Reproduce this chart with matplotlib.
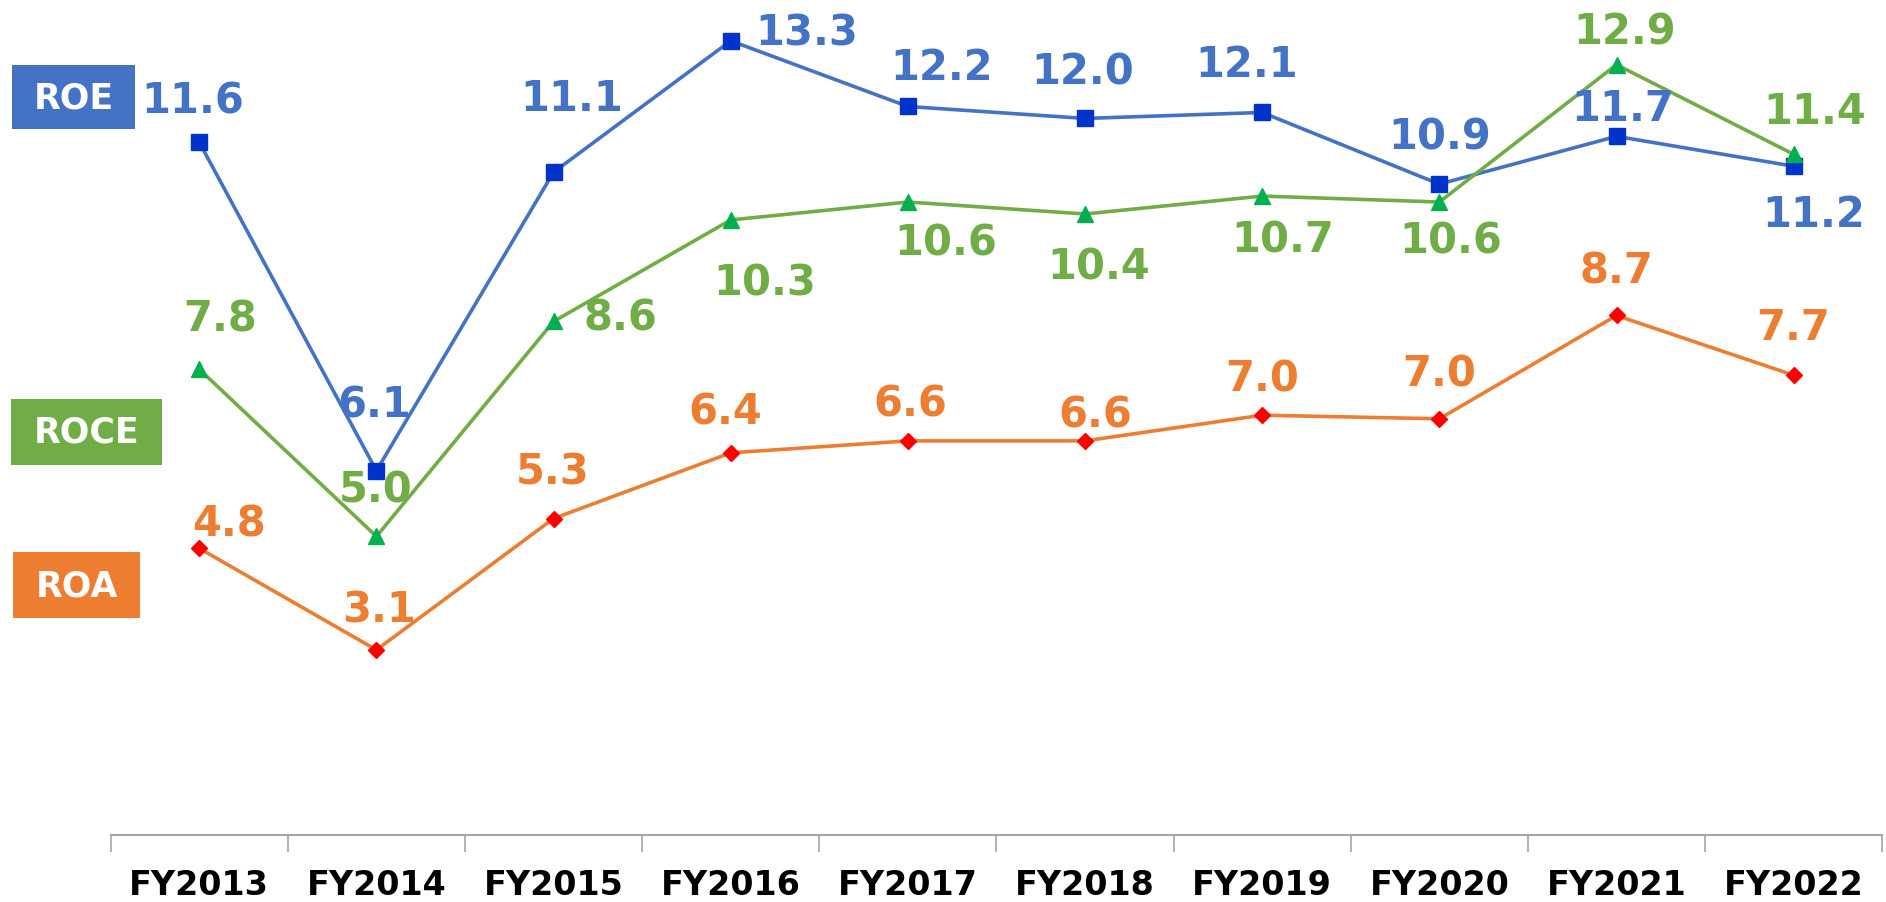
import matplotlib
matplotlib.use("Agg")
import matplotlib.pyplot as plt
from matplotlib.patches import Rectangle

years = ["FY2013", "FY2014", "FY2015", "FY2016", "FY2017",
         "FY2018", "FY2019", "FY2020", "FY2021", "FY2022"]
roe = [11.6, 6.1, 11.1, 13.3, 12.2, 12.0, 12.1, 10.9, 11.7, 11.2]
roce = [7.8, 5.0, 8.6, 10.3, 10.6, 10.4, 10.7, 10.6, 12.9, 11.4]
roa = [4.8, 3.1, 5.3, 6.4, 6.6, 6.6, 7.03, 6.97, 8.7, 7.7]

# label offsets (points, text baseline relative to the marker)
roe_off = [(-4.5, 21.7), (-1.4, 39), (12.8, 45), (55, -2.7), (24.5, 20), (-2, 25.5),
           (-11, 26), (0.5, 25.5), (4.3, 12), (14.7, -43.3)]
roce_off = [(14.9, 27.6), (-0.4, 25.5), (48.4, -6), (24.7, -53.9), (27.4, -38), (10, -46.2),
            (14.6, -39.9), (7.9, -36), (5.8, 14.9), (15, 22.5)]
roa_off = [(21.7, 9.1), (2, 20.2), (-0.6, 25.3), (-3.9, 21.2), (1.5, 18.1), (7.2, 10.2),
           (0, 17.5), (0, 23.9), (0, 24), (0, 26.1)]

C_ROE, C_ROE_M = "#4472C4", "#0033CC"
C_ROCE, C_ROCE_M = "#70AD47", "#00B050"
C_ROA, C_ROA_M = "#ED7D31", "#FF0000"

plt.rcParams['font.family'] = ['DejaVu Sans']

fig = plt.figure(figsize=(18.86, 9.03), dpi=100)
ax = fig.add_axes([0.0587, 0.0742, 0.9393, 0.9258])
x = list(range(len(years)))

ax.plot(x, roe, color=C_ROE, lw=2.6, marker='s', ms=11, mfc=C_ROE_M, mec=C_ROE_M, zorder=3)
ax.plot(x, roce, color=C_ROCE, lw=2.6, marker='^', ms=11, mfc=C_ROCE_M, mec=C_ROCE_M, zorder=3)
ax.plot(x, roa, color=C_ROA, lw=2.6, marker='D', ms=8, mfc=C_ROA_M, mec=C_ROA_M, zorder=3)

def labels(vals, offs, color):
    for i, (v, o) in enumerate(zip(vals, offs)):
        ax.annotate(f"{v:.1f}", (i, v), xytext=o, textcoords='offset points',
                    ha='center', va='baseline', color=color, fontsize=30,
                    fontweight='bold', annotation_clip=False, zorder=4)

labels(roe, roe_off, C_ROE)
labels(roce, roce_off, C_ROCE)
labels(roa, roa_off, C_ROA)

ax.set_xlim(-0.5, len(years) - 0.5)
ax.set_ylim(0, 14)
for s in ['top', 'right', 'left']:
    ax.spines[s].set_visible(False)
ax.spines['bottom'].set_color('#A6A6A6')
ax.spines['bottom'].set_linewidth(1.5)
ax.set_yticks([])
ax.set_xticks(x)
ax.set_xticklabels(years, fontsize=24, fontweight='bold', color='black')
ax.tick_params(axis='x', which='major', length=0, pad=24)
ax.set_xticks([i - 0.5 for i in range(len(years) + 1)], minor=True)
ax.tick_params(axis='x', which='minor', length=12, width=1.2, color='#A6A6A6', direction='out')

def box(x0, y0, w, h, color, text):
    fig.patches.append(Rectangle((x0, y0), w, h, transform=fig.transFigure,
                                 facecolor=color, edgecolor='none', zorder=5))
    fig.text(x0 + w / 2, y0 + h / 2, text, ha='center', va='center', color='white',
             fontsize=25, fontweight='bold', zorder=6)

box(0.0064, 0.856, 0.0652, 0.0709, C_ROE, "ROE")
box(0.0058, 0.484, 0.0801, 0.0731, C_ROCE, "ROCE")
box(0.0069, 0.3145, 0.0673, 0.0731, C_ROA, "ROA")

fig.savefig("out.png", dpi=100)
